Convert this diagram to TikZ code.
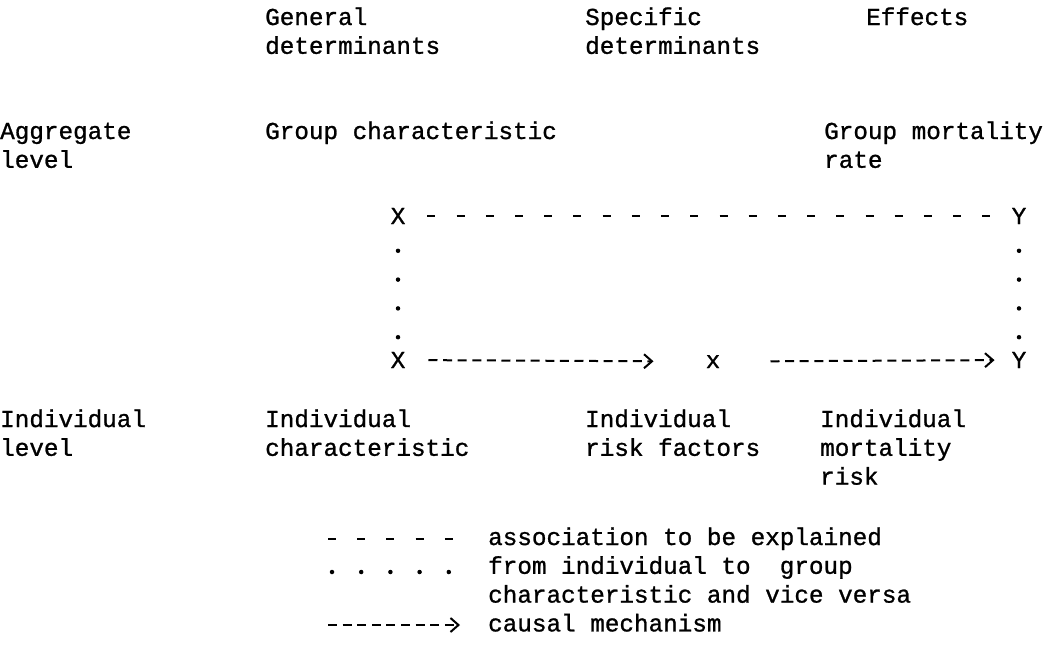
\documentclass[tikz,border=0pt]{standalone}
\usepackage{fontspec}
\setmainfont[FakeBold=1]{Liberation Mono}
\usetikzlibrary{arrows.meta,positioning}
\newcommand{\typed}{\fontsize{24.3pt}{28.8pt}\selectfont}

\begin{document}
\begin{tikzpicture}[x=1pt,y=-1pt,
    every node/.style={font=\typed, inner sep=0pt},
    lbl/.style={anchor=base west, align=left},
    var/.style={anchor=base},
    assoc/.style={line width=2pt, dash pattern=on 8pt off 21.2pt},
    linkdots/.style={line width=4.5pt, line cap=round, dash pattern=on 0pt off 28.8pt},
    causal/.style={line width=2pt, dash pattern=on 9pt off 5.6pt, -{Straight Barb[length=8pt,width=14pt]}}]
  \useasboundingbox (0,0) rectangle (1046,667);
  % column heads (base = last line)
  \node[lbl] (gendet) at (265,53.8) {General\\determinants};
  \node[lbl] (specdet) at (585,53.8) {Specific\\determinants};
  \node[lbl] (effects) at (866,25) {Effects};
  % aggregate level
  \node[lbl] (aggr) at (0,167.8) {Aggregate\\level};
  \node[lbl] (grpchar) at (265,139) {Group characteristic};
  \node[lbl] (grpmort) at (824,167.8) {Group mortality\\rate};
  % variables
  \node[var] (Xt) at (398,224) {X};
  \node[var] (Yt) at (1019,224) {Y};
  \node[var] (Xb) at (398,368) {X};
  \node[var] (xs) at (713,368) {x};
  \node[var] (Yb) at (1019,368) {Y};
  % individual level
  \node[lbl] (indiv) at (0,455.8) {Individual\\level};
  \node[lbl] (indchar) at (265,455.8) {Individual\\characteristic};
  \node[lbl] (indrisk) at (585,455.8) {Individual\\risk factors};
  \node[lbl] (indmort) at (820,484.6) {Individual\\mortality\\risk};
  % connectors
  \draw[assoc, shorten <=22pt, shorten >=21.5pt] (Xt) -- (Yt);
  \draw[linkdots, dash phase=2pt, shorten >=10pt] (Xt.base) -- (Xb.base);
  \draw[linkdots, dash phase=2pt, shorten >=10pt] (Yt.base) -- (Yb.base);
  \draw[causal, shorten <=23pt, shorten >=52pt] (Xb) -- (xs);
  \draw[causal, shorten <=50pt, shorten >=17pt] (xs) -- (Yb);
  % legend
  \coordinate (keyA1) at (328,539);
  \coordinate (keyA2) at (456,539);
  \coordinate (keyB1) at (332,572);
  \coordinate (keyB2) at (450,572);
  \coordinate (keyC1) at (328,625);
  \coordinate (keyC2) at (460,625);
  \draw[assoc] (keyA1) -- (keyA2);
  \draw[linkdots, dash pattern=on 0pt off 29.2pt] (keyB1) -- (keyB2);
  \draw[causal] (keyC1) -- (keyC2);
  \node[lbl] (keytext) at (488,631.4) {association to be explained\\from individual to\ \ group\\characteristic and vice versa\\causal mechanism};
\end{tikzpicture}
\end{document}
